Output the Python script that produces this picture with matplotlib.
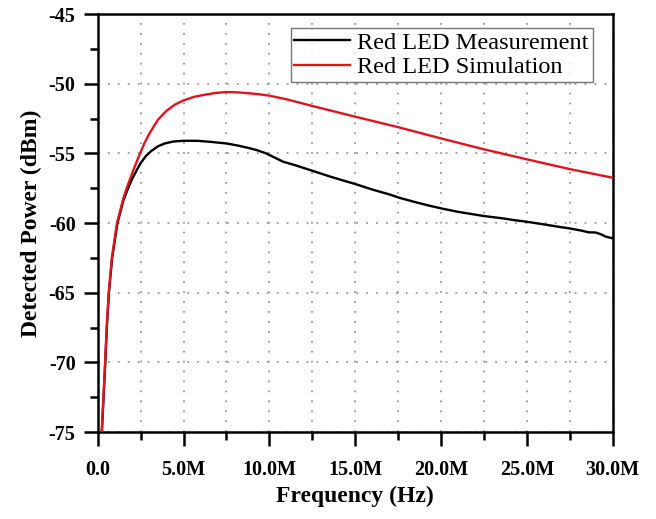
import matplotlib
matplotlib.use("Agg")
import matplotlib.pyplot as plt
from matplotlib.ticker import MultipleLocator

# Frequency in MHz, detected power in dBm
meas_f = [0.24, 0.34, 0.44, 0.53, 0.65, 0.84, 1.15, 1.5, 1.77, 2.0, 2.25, 2.5, 2.8, 3.1, 3.5, 3.88,
          4.4, 5.0, 5.82, 6.6, 7.5, 8.2, 8.74, 9.3, 9.8, 10.3, 10.8, 11.5, 12.5, 13.5, 14.3, 15.0,
          16.0, 17.0, 17.6, 18.5, 19.3, 20.0, 21.0, 22.0, 22.5, 23.5, 24.3, 25.0, 26.0, 27.0,
          27.5, 28.2, 28.6, 29.0, 29.3, 29.6, 30.0]
meas_p = [-75.0, -72.5, -70.0, -67.5, -65.0, -62.5, -60.0, -58.35, -57.5, -56.85, -56.25, -55.7,
          -55.2, -54.85, -54.5, -54.3, -54.15, -54.1, -54.1, -54.18, -54.29, -54.45, -54.6, -54.78,
          -55.0, -55.3, -55.6, -55.85, -56.25, -56.65, -56.95, -57.2, -57.6, -57.95, -58.2, -58.5,
          -58.75, -58.95, -59.2, -59.4, -59.5, -59.65, -59.8, -59.91, -60.1, -60.3, -60.39, -60.55,
          -60.67, -60.68, -60.8, -60.98, -61.1]

sim_f = [0.23, 0.33, 0.43, 0.52, 0.64, 0.82, 1.12, 1.5, 1.67, 1.85, 2.0, 2.25, 2.5, 2.75, 3.0,
         3.5, 4.0, 4.5, 5.0, 5.6, 6.2, 6.9, 7.5, 8.1, 8.74, 9.4, 10.0, 11.0, 12.5, 15.0, 17.5,
         20.0, 22.5, 25.0, 27.5, 30.0]
sim_p = [-75.0, -72.5, -70.0, -67.5, -65.0, -62.5, -60.0, -58.2, -57.55, -56.95, -56.45, -55.65,
         -54.9, -54.2, -53.6, -52.6, -51.95, -51.5, -51.2, -50.95, -50.8, -50.66, -50.6, -50.62,
         -50.68, -50.76, -50.86, -51.12, -51.6, -52.37, -53.12, -53.93, -54.71, -55.43, -56.13,
         -56.75]

x_ticks = [0, 5, 10, 15, 20, 25, 30]
x_tick_labels = ["0.0", "5.0M", "10.0M", "15.0M", "20.0M", "25.0M", "30.0M"]
y_ticks = [-75, -70, -65, -60, -55, -50, -45]

plt.rcParams['font.family'] = ["Liberation Serif", "DejaVu Serif"]
plt.rcParams['axes.unicode_minus'] = False

fig = plt.figure(figsize=(6.56, 5.19), dpi=100)
ax = fig.add_axes([0.149, 0.1676, 0.785, 0.8054])

ax.plot(meas_f, meas_p, color="black", lw=1.7, label="Red LED Measurement", zorder=3,
        solid_joinstyle="round")
ax.plot(sim_f, sim_p, color="#e0141e", lw=1.7, label="Red LED Simulation", zorder=3,
        solid_joinstyle="round")

ax.set_xlim(0, 30)
ax.set_ylim(-75, -45)
ax.set_xticks(x_ticks)
ax.set_xticklabels(x_tick_labels)
ax.set_yticks(y_ticks)
ax.xaxis.set_minor_locator(MultipleLocator(2.5))
ax.yaxis.set_minor_locator(MultipleLocator(2.5))

for t in ax.get_xticklabels() + ax.get_yticklabels():
    t.set_fontweight("bold")
    t.set_fontsize(14.5)

ax.tick_params(which="major", direction="out", length=10, width=1.8)
ax.tick_params(axis="x", which="major", pad=10)
ax.tick_params(axis="y", which="major", pad=6)
ax.tick_params(which="minor", direction="out", length=5.5, width=1.8)
ax.tick_params(top=False, right=False)

for s in ax.spines.values():
    s.set_linewidth(1.8)

ax.grid(True, which="major", axis="y", color="#999999", linestyle=(0, (1, 4.5)), lw=1.3)
ax.grid(True, which="both", axis="x", color="#999999", linestyle=(0, (1, 4.5)), lw=1.3)
ax.set_axisbelow(True)

ax.set_xlabel("Frequency (Hz)", fontsize=17, fontweight="bold", labelpad=4)
ax.set_ylabel("Detected Power (dBm)", fontsize=17, fontweight="bold", labelpad=5)

leg = ax.legend(loc="upper right", bbox_to_anchor=(0.961, 0.9665), fontsize=17.5, frameon=True,
                fancybox=False, edgecolor="#555555", handlelength=2.3, handletextpad=0.3,
                borderpad=0.15, labelspacing=0.1, borderaxespad=0)
leg.get_frame().set_linewidth(1.0)

fig.savefig("out.png", dpi=100)
